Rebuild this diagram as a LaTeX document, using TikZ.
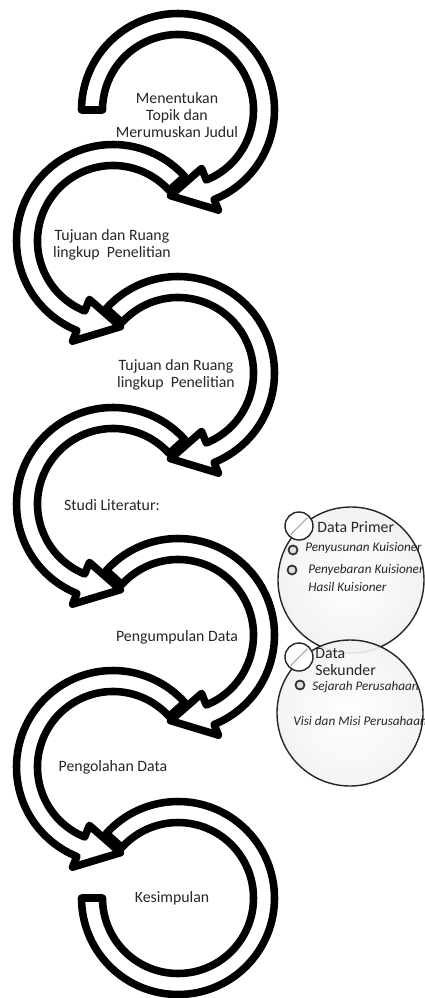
\documentclass[tikz,border=0pt]{standalone}
\usepackage{fontspec}
\setmainfont{Carlito}
\usetikzlibrary{calc,shadows}

% one bent band with its head: centre, start angle, end of shaft, tip angle
\newcommand{\bendband}[4]{%
  \filldraw[bandstyle] ($(#1)+(#2:96.5)$) arc[start angle=#2, end angle=#3, radius=96.5]
    -- ($(#1)+(#3:108)$) -- ($(#1)+(#4:86)$) -- ($(#1)+(#3:63)$) -- ($(#1)+(#3:75.5)$)
    arc[start angle=#3, end angle=#2, radius=75.5] -- cycle;}

\begin{document}
\begin{tikzpicture}[x=0.02cm, y=0.02cm,
  bandstyle/.style={draw=black, line width=4.3pt, fill=white, line join=round,
    drop shadow={opacity=0.18, shadow xshift=1.2pt, shadow yshift=-1.8pt}},
  steplabel/.style={font=\fontsize{9}{9.5}\selectfont, align=center, text=black!85, inner sep=0pt},
  datalabel/.style={font=\fontsize{9}{9.7}\selectfont, align=left, anchor=west, text=black!85, inner sep=0pt},
  itemlabel/.style={font=\fontsize{7.5}{10.2}\selectfont\itshape, align=left, anchor=west, text=black!85, inner sep=0pt},
  databall/.style={draw=black!85, line width=0.8pt, inner color=white, outer color=black!5},
  knob/.style={draw=black!85, line width=0.8pt, fill=white},
  dot/.style={draw=black!80, line width=1pt, fill=black!12}]
\useasboundingbox (0,0) rectangle (425,-998);

% centres of the bands
\coordinate (c1) at (178,-110);
\coordinate (c2) at (113,-241);
\coordinate (c3) at (178,-373);
\coordinate (c4) at (113,-504);
\coordinate (c5) at (178,-635);
\coordinate (c6) at (113,-767);
\coordinate (c7) at (178,-898);

% last band, no head
\filldraw[bandstyle] ($(c7)+(138:96.5)$) arc[start angle=138, end angle=-180, radius=96.5]
  -- ($(c7)+(-180:75.5)$) arc[start angle=-180, end angle=138, radius=75.5] -- cycle;
\bendband{c6}{42}{248}{275}
\bendband{c5}{138}{-68}{-95}
\bendband{c4}{42}{248}{275}
\bendband{c3}{138}{-68}{-95}
\bendband{c2}{42}{248}{275}
\bendband{c1}{180}{-68}{-95}

% step texts
\node[steplabel] (topik) at (177,-115) {Menentukan\\Topik dan\\Merumuskan Judul};
\node[steplabel] (tujuan1) at (112,-245) {Tujuan dan Ruang\\lingkup\ \ Penelitian};
\node[steplabel] (tujuan2) at (176,-375) {Tujuan dan Ruang\\lingkup\ \ Penelitian};
\node[steplabel] (studi) at (112,-505) {Studi Literatur:};
\node[steplabel] (kumpul) at (177,-637) {Pengumpulan Data};
\node[steplabel] (olah) at (113,-767) {Pengolahan Data};
\node[steplabel] (simpul) at (172,-898) {Kesimpulan};

% data balls
\coordinate (primer) at (351,-580);
\coordinate (sekunder) at (350,-713);
\draw[databall] (primer) circle (73);
\draw[databall, fill opacity=0.9] (sekunder) circle (73);

\coordinate (k1) at (299,-526);
\draw[knob] (k1) circle (14);
\draw[black!35, line width=0.6pt] ($(k1)+(225:12)$) -- ($(k1)+(45:12)$);
\node[datalabel] (primertext) at (317,-527) {Data Primer};

\draw[dot] (293,-550) circle (4.5);
\node[itemlabel] (susun) at (305,-548) {Penyusunan Kuisioner};
\draw[dot] (292,-570) circle (4.5);
\node[itemlabel] (sebar) at (308,-578) {Penyebaran Kuisioner\\Hasil Kuisioner};

\coordinate (k2) at (299,-657);
\draw[knob] (k2) circle (14);
\draw[black!35, line width=0.6pt] ($(k2)+(225:12)$) -- ($(k2)+(45:12)$);
\node[datalabel] (sekundertext) at (315,-661.5) {Data\\Sekunder};

\draw[dot] (300,-685) circle (4.5);
\node[itemlabel] (sejarah) at (312,-687) {Sejarah Perusahaan};
\node[itemlabel] (visi) at (293,-721) {Visi dan Misi Perusahaan};
\end{tikzpicture}
\end{document}
